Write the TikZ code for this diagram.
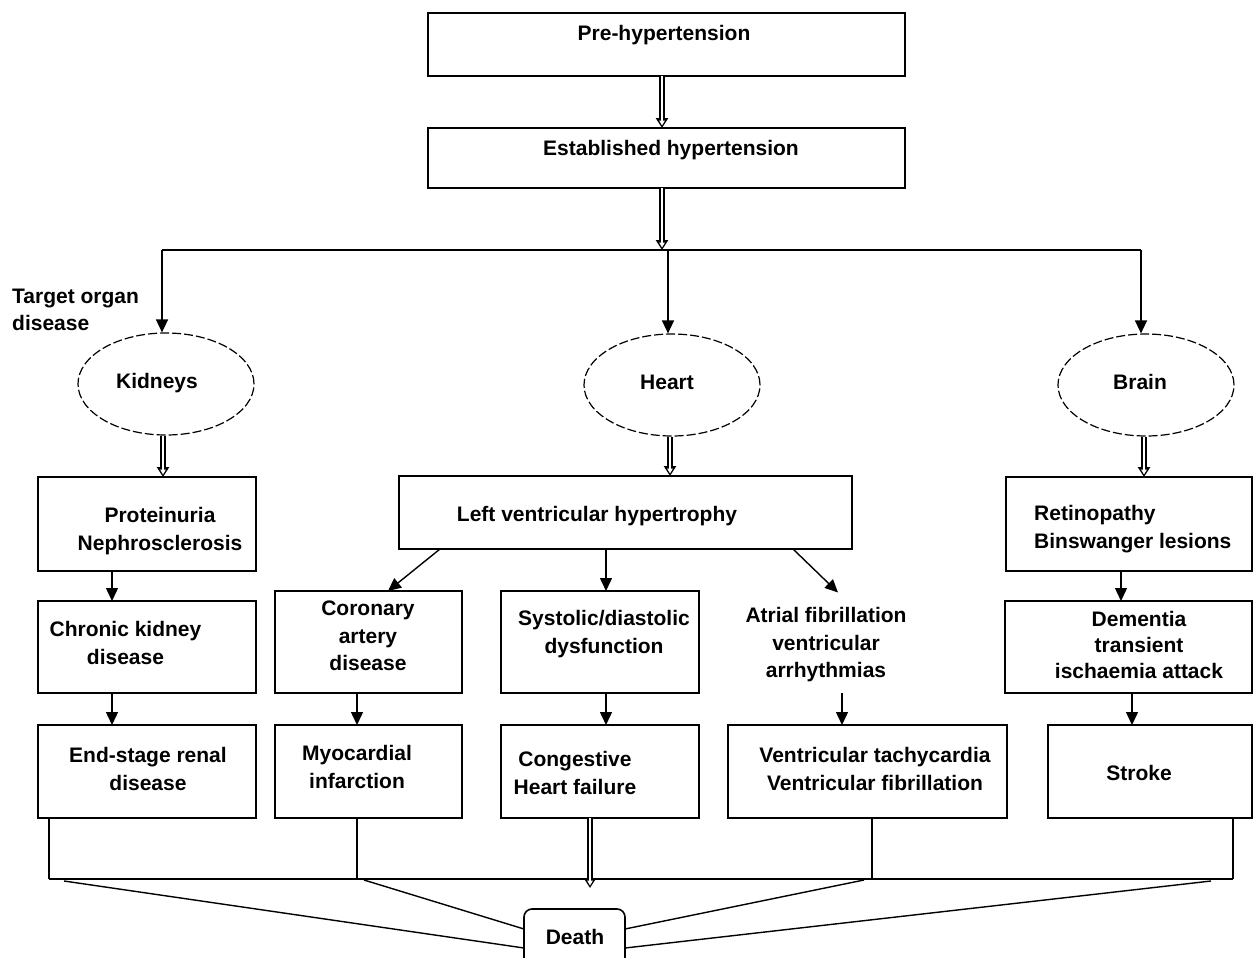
\documentclass[tikz,border=0pt]{standalone}
\usepackage{fontspec}
\setmainfont{Liberation Sans}
\usetikzlibrary{arrows.meta,shapes.geometric,calc}
\begin{document}
\begin{tikzpicture}[x=1pt,y=-1pt,
  every node/.style={font={\fontsize{21}{27.5}\selectfont\bfseries}},
  box/.style={draw, line width=1.6pt, inner sep=0pt, outer sep=0pt},
  txt/.style={align=center, inner sep=0pt},
  oval/.style={ellipse, draw, dash pattern=on 9pt off 3pt, line width=1.2pt,
               minimum width=176pt, minimum height=102pt, inner sep=0pt},
  arr/.style={line width=1.4pt, -{Triangle[width=12pt,length=13pt]}},
  hollowout/.style={line width=5.5pt, -{Triangle[width=12pt,length=10pt]}},
  hollowin/.style={white, line width=2pt, shorten >=2.5pt, -{Triangle[width=5.5pt,length=5pt]}},
  ln/.style={line width=1.4pt}
]
\useasboundingbox (0,0) rectangle (1253,958);
\clip (0,0) rectangle (1253,958);

% ---- top boxes
\node[box, minimum width=477pt, minimum height=63pt] (pre) at (666.5,44.5) {};
\node[txt] (preT) at (664,35) {Pre-hypertension};
\node[box, minimum width=477pt, minimum height=60pt] (est) at (666.5,158) {};
\node[txt] (estT) at (671,150) {Established hypertension};

\coordinate (hx) at (662,0);
\coordinate (hub) at (662,250);
\coordinate (tk) at (162,250);
\coordinate (th) at (668,250);
\coordinate (tb) at (1141,250);

\draw[hollowout] (pre.south -| hx) -- (est.north -| hx);
\draw[hollowin] (pre.south -| hx) -- (est.north -| hx);
\draw[hollowout] (est.south -| hx) -- (hub);
\draw[hollowin] (est.south -| hx) -- (hub);

\draw[ln] (tk) -- (tb);

\node[txt, anchor=west, align=left] (target) at (12,310) {Target organ\\disease};

% ---- ellipses
\node[oval] (kid) at (166,384) {};
\node[txt] (kidT) at (157,383) {Kidneys};
\node[oval] (heart) at (672,385) {};
\node[txt] (heartT) at (667,382) {Heart};
\node[oval] (brain) at (1146,385) {};
\node[txt] (brainT) at (1140,382) {Brain};

\draw[arr] (tk) -- (tk |- kid.north);
\draw[arr] (th) -- (th |- heart.north);
\draw[arr] (tb) -- (tb |- brain.north);

% ---- kidney column
\node[box, minimum width=218pt, minimum height=94pt] (prot) at (147,524) {};
\node[txt] (protT) at (160,531) {Proteinuria\\Nephrosclerosis};
\node[box, minimum width=218pt, minimum height=92pt] (chron) at (147,647) {};
\node[txt] (chronT) at (125.5,643) {Chronic kidney\\disease};
\node[box, minimum width=218pt, minimum height=93pt] (endst) at (147,771.5) {};
\node[txt] (endT) at (148,769) {End-stage renal\\disease};

\coordinate (kh) at (163,0);
\coordinate (kx) at (112,0);
\draw[hollowout] (kid.south -| kh) -- (prot.north -| kh);
\draw[hollowin] (kid.south -| kh) -- (prot.north -| kh);
\draw[arr] (prot.south -| kx) -- (chron.north -| kx);
\draw[arr] (chron.south -| kx) -- (endst.north -| kx);

% ---- heart column
\node[box, minimum width=453pt, minimum height=73pt] (lvh) at (625.5,512.5) {};
\node[txt] (lvhT) at (597,516) {Left ventricular hypertrophy};
\node[box, minimum width=187pt, minimum height=102pt] (cor) at (368.5,642) {};
\node[txt] (corT) at (368,636) {Coronary\\artery\\disease};
\node[box, minimum width=198pt, minimum height=102pt] (sys) at (600,642) {};
\node[txt] (sysT) at (604,634) {Systolic/diastolic\\dysfunction};
\node[txt] (atrT) at (826,645) {Atrial fibrillation\\ventricular\\arrhythmias};
\node[box, minimum width=187pt, minimum height=93pt] (myo) at (368.5,771.5) {};
\node[txt] (myoT) at (357,767) {Myocardial\\infarction};
\node[box, minimum width=198pt, minimum height=93pt] (cong) at (600,771.5) {};
\node[txt] (congT) at (575,773) {Congestive\\Heart failure};
\node[box, minimum width=279pt, minimum height=93pt] (vent) at (867.5,771.5) {};
\node[txt] (ventT) at (875,769) {Ventricular tachycardia\\Ventricular fibrillation};

\coordinate (hh) at (670,0);
\draw[hollowout] (heart.south -| hh) -- (lvh.north -| hh);
\draw[hollowin] (heart.south -| hh) -- (lvh.north -| hh);

\coordinate (sx) at (606,0);
\coordinate (cx) at (357,0);
\draw[arr] ([xshift=41pt]lvh.south west) -- ([xshift=19.5pt]cor.north);
\draw[arr] (lvh.south -| sx) -- (sys.north -| sx);
\draw[arr] ([xshift=-59pt]lvh.south east) -- ([shift={(12,-15)}]atrT.north);
\draw[arr] (cor.south -| cx) -- (myo.north -| cx);
\draw[arr] (sys.south -| sx) -- (cong.north -| sx);
\coordinate (av) at ([shift={(16,11)}]atrT.south);
\draw[arr] (av) -- (av |- vent.north);

% ---- brain column
\node[box, minimum width=246pt, minimum height=94pt] (ret) at (1129,524) {};
\node[txt, anchor=west, align=left] (retT) at (1034,529) {Retinopathy\\Binswanger lesions};
\node[box, minimum width=247pt, minimum height=92pt] (dem) at (1128.5,647) {};
\node[txt, font={\fontsize{21}{26}\selectfont\bfseries}] (demT) at (1139,645) {Dementia\\transient\\ischaemia attack};
\node[box, minimum width=204pt, minimum height=93pt] (stroke) at (1150,771.5) {};
\node[txt] (strokeT) at (1139,773) {Stroke};

\coordinate (bh) at (1144,0);
\coordinate (rx) at (1121,0);
\coordinate (dx) at (1132,0);
\draw[hollowout] (brain.south -| bh) -- (ret.north -| bh);
\draw[hollowin] (brain.south -| bh) -- (ret.north -| bh);
\draw[arr] (ret.south -| rx) -- (dem.north -| rx);
\draw[arr] (dem.south -| dx) -- (stroke.north -| dx);

% ---- bottom collection
\coordinate (bl) at (49,879);
\coordinate (bm) at (357,879);
\coordinate (bv) at (872,879);
\coordinate (br) at (1233,879);
\coordinate (bc) at (590,0);
\coordinate (hc) at (590,888);
\draw[ln] (endst.south -| bl) -- (bl);
\draw[ln] (myo.south -| bm) -- (bm);
\draw[ln] (vent.south -| bv) -- (bv);
\draw[ln] (stroke.south -| br) -- (br);
\draw[ln] (bl) -- (br);
\draw[hollowout] (cong.south -| bc) -- (hc);
\draw[hollowin] (cong.south -| bc) -- (hc);

\node[box, rounded corners=8pt, minimum width=101pt, minimum height=81pt] (death) at (574.5,949.5) {};
\node[txt] (deathT) at (575,937) {Death};

\coordinate (d1) at (64,881);
\coordinate (d2) at (364,880);
\coordinate (d3) at (864,880);
\coordinate (d4) at (1211,881);
\draw[ln] (d1) -- ([yshift=-39pt]death.north west);
\draw[ln] (d2) -- ([yshift=-20pt]death.north west);
\draw[ln] (d3) -- ([yshift=-20pt]death.north east);
\draw[ln] (d4) -- ([yshift=-39pt]death.north east);
\end{tikzpicture}
\end{document}
